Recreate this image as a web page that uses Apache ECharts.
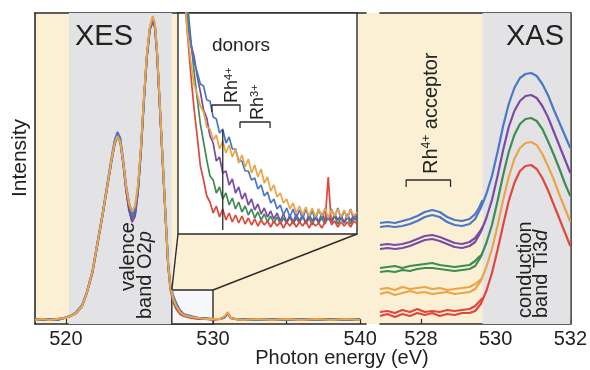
<!DOCTYPE html>
<html><head><meta charset="utf-8">
<script src="https://cdn.jsdelivr.net/npm/echarts@6/dist/echarts.min.js"></script>
<style>html,body{margin:0;padding:0;background:#fff}#c{width:590px;height:370px}</style>
</head><body><div id="c"></div>
<script>
// ---------- XES main panel (energy in eV, intensity in arbitrary units) ----------
const xesE = [517.9,518.4,518.9,519.4,519.9,520.3,520.7,521.1,521.4,521.8,522.1,522.5,522.8,523.1,523.3,523.5,523.7,523.9,524.1,524.3,524.5,524.7,524.9,525.1,525.3,525.5,525.7,525.9,526.05,526.2,526.4,526.6,526.8,526.95,527.1,527.3,527.5,527.75,528.0,528.5,529.0,529.5,530.0,530.5,530.8,531.0,531.2,531.5,532.0,533,534,535,536,537,538,539,540];
const xesOrange = [4,5,4,5,6,8,11,18,30,52,77,110,137,164,180,188,182,162,137,120,113,118,139,177,226,269,297,308,301,273,216,158,101,60,37,25,18,12,9,7,6,5,5,5,8,12,6,5,4,5,4,5,4,5,4,5,4];
const xesBlue   = [4,4,5,4,6,8,12,19,31,53,78,111,139,166,183,192,186,164,138,121,109,114,136,175,224,267,295,305,299,271,214,157,102,62,40,28,21,14,10,8,6,6,5,5,7,11,6,5,5,4,5,4,5,4,5,4,5];
const xesPurple = [4,5,4,5,6,8,11,18,30,51,76,109,136,163,179,188,182,160,133,113,102,108,132,172,222,266,294,304,298,270,213,156,100,59,37,26,19,13,9,7,6,5,5,5,7,11,6,5,4,5,4,4,5,4,5,4,4];
const xesGreen  = [5,4,5,4,6,8,11,18,30,51,76,110,136,163,179,188,182,161,135,116,106,111,134,174,223,267,295,305,299,271,214,157,100,59,36,24,17,12,9,7,6,5,5,5,7,11,6,5,5,4,5,4,5,4,5,4,5];
const xesRed    = [4,5,4,5,6,8,11,18,30,52,77,110,137,164,180,189,183,161,134,115,104,110,133,174,223,266,294,302,296,269,213,156,99,58,35,22,15,10,8,6,5,5,4,5,7,11,6,5,4,5,4,5,4,5,4,5,4];

// ---------- XES inset (zoomed 527.2 - 530 eV) ----------
const insE = [527.20,527.25,527.30,527.35,527.40,527.45,527.50,527.55,527.60,527.65,527.70,527.75,527.80,527.85,527.90,527.95,528.00,528.05,528.10,528.15,528.20,528.25,528.30,528.35,528.40,528.45,528.50,528.55,528.60,528.65,528.70,528.75,528.80,528.85,528.90,528.95,529.00,529.05,529.10,529.15,529.20,529.25,529.30,529.35,529.40,529.45,529.50,529.55,529.60,529.65,529.70,529.75,529.80,529.85,529.90,529.95,530.00];
const insRed    = [340,285,238,198,160,126,98,68,54,38,32,21,28,17,25,14,21,12,19,11,18,10,16,9,15,8,14,9,13,7,13,8,12,6,12,8,13,7,12,8,13,6,12,8,11,6,12,57,9,13,7,12,8,12,7,13,10];
const insGreen  = [390,330,275,230,195,163,136,110,92,74,58,54,41,47,35,41,29,36,25,32,22,28,19,25,16,22,14,20,12,18,11,17,10,16,11,17,10,16,11,18,10,16,9,17,11,16,10,17,11,18,10,16,11,17,10,16,13];
const insPurple = [330,285,245,212,190,178,158,142,124,116,98,91,73,77,61,63,49,55,41,47,35,41,29,35,24,30,20,26,17,23,15,21,13,20,12,19,12,20,13,19,11,20,13,19,12,21,13,19,12,20,14,19,11,20,13,19,15];
const insBlue   = [340,290,248,215,190,172,162,150,148,134,133,117,115,101,105,91,97,85,85,73,73,63,63,54,56,45,49,38,42,31,35,25,29,19,26,17,25,16,24,15,25,16,23,14,25,16,24,14,25,17,26,15,23,16,25,14,21];
const insOrange = [360,300,240,200,172,150,140,128,122,107,105,94,99,85,93,81,89,77,85,71,79,67,75,61,69,57,65,51,57,43,49,37,41,31,35,25,31,21,28,19,27,18,26,17,25,18,26,16,24,18,25,17,24,16,25,18,22];
// annotation geometry in inset data units
const rh4Bracket = [[527.73,122],[527.73,129],[528.17,129],[528.17,122]];
const rh3Bracket = [[528.17,106],[528.17,112],[528.64,112],[528.64,106]];
const donorLine  = [[527.90,4],[527.90,104]];

// ---------- XAS panel ----------
const xasE = [526.9,527.1,527.3,527.5,527.7,527.9,528.1,528.3,528.5,528.7,528.9,529.1,529.3,529.45,529.6,529.75,529.9,530.05,530.2,530.35,530.5,530.65,530.8,530.95,531.1,531.25,531.4,531.55,531.7,531.85,532.0];
const xasBlue   = [97,98,97,98,100,103,107,109,107,102,99,98,100,105,116,130,148,172,198,220,236,246,250,251,248,240,229,215,202,189,176];
const xasPurple = [75,76,75,76,78,81,84,85,83,80,77,76,78,82,92,106,124,148,174,197,213,223,228,229,226,218,207,193,179,165,151];
const xasGreen  = [52,53,52,54,53,55,56,56,55,54,53,54,55,58,67,81,99,123,149,172,189,200,205,206,203,195,183,170,156,141,128];
const xasOrange = [30,32,29,31,33,31,32,30,31,32,30,31,32,35,43,57,75,98,124,147,165,176,181,182,179,170,158,145,130,116,102];
const xasRed    = [8,10,7,10,8,11,9,11,8,10,9,11,11,13,20,33,51,74,99,123,141,153,158,159,155,146,134,120,106,92,78];
const xasEA = [526.9,527.1,527.3,527.5,527.7,527.9,528.1,528.3,528.5,528.7,528.9,529.1,529.3,529.45,529.55,529.65];
const xasBlueA   = [101,102,101,103,105,108,112,114,112,107,104,103,105,110,116,124];
const xasPurpleA = [79,80,79,80,82,85,88,89,87,84,81,80,82,86,91,97];
const xasGreenA  = [56,57,58,56,58,59,60,61,59,58,57,58,59,63,67,70];
const xasOrangeA = [35,36,34,37,35,36,37,35,36,34,35,36,37,40,43,46];
const xasRedA    = [12,13,11,14,12,15,12,13,12,14,13,14,15,18,22,26];
const accBracket = [[527.6,137],[527.6,144],[528.79,144],[528.79,137]];

// ---------- tick labels ----------
const xesTicks = [520,525,530,535,540];
const xesLabels = [520,530,540];
const xasTicks = [528,530,532];
const xasLabels = [528,530,532];

// ---------- bands ----------
const xesGray = [520.2,527.2];
const srcBox = [527.2,530.0,0,34];
const xasGray = [529.65,532];

const COL = {blue:'#4a78c4', purple:'#7a4aa5', green:'#3f8b55', orange:'#eaa548', red:'#e0463c'};
const YELLOW = '#fcf0d4', GRAY = '#e3e3e5', FRAME = '#2b2b2b';
const FONT = '"Liberation Sans", Arial, sans-serif';

const pairs = (xs, ys) => xs.map((x,i)=>[x, ys[i]]);
function line(name, xs, ys, color, xi, yi, w, z) {
  return {type:'line', name, data: pairs(xs, ys), xAxisIndex: xi, yAxisIndex: yi,
    symbol:'none', smooth: false, lineStyle:{color, width: w}, z: z||3, silent:true, animation:false};
}
function poly(data, xi, yi, w) {
  return {type:'line', data, xAxisIndex: xi, yAxisIndex: yi, symbol:'none',
    lineStyle:{color:FRAME, width:w}, z: 6, silent:true, animation:false};
}

const gridL = {left:35, top:13, width:331, height:311};
const gridR = {left:380, top:13, width:194, height:311};
const gridI = {left:178, top:13, width:179, height:221};

const axisBase = {type:'value', splitLine:{show:false}};
const labelStyle = {color:'#222', fontSize:20, fontFamily:FONT, margin:5};

const option = {
  animation:false,
  backgroundColor:'#fff',
  grid:[
    Object.assign({containLabel:false}, gridL),
    Object.assign({containLabel:false}, gridR),
    Object.assign({containLabel:false, show:true, backgroundColor:'#fff', borderColor:FRAME, borderWidth:1.4, z:1}, gridI)
  ],
  xAxis:[
    Object.assign({}, axisBase, {gridIndex:0, min:517.9, max:540.4, position:'bottom',
      axisLine:{show:true, onZero:false, lineStyle:{color:FRAME, width:1.6}},
      axisTick:{show:true, inside:true, length:5, customValues:xesTicks, lineStyle:{color:FRAME, width:1.2}},
      axisLabel:Object.assign({show:true, customValues:xesLabels}, labelStyle)}),
    Object.assign({}, axisBase, {gridIndex:0, min:517.9, max:540.4, position:'top',
      axisLine:{show:true, onZero:false, lineStyle:{color:FRAME, width:1.6}}, axisTick:{show:false}, axisLabel:{show:false}}),
    Object.assign({}, axisBase, {gridIndex:1, min:526.9, max:532, position:'bottom',
      axisLine:{show:true, onZero:false, lineStyle:{color:FRAME, width:1.6}},
      axisTick:{show:true, inside:true, length:5, customValues:xasTicks, lineStyle:{color:FRAME, width:1.2}},
      axisLabel:Object.assign({show:true, customValues:xasLabels}, labelStyle)}),
    Object.assign({}, axisBase, {gridIndex:1, min:526.9, max:532, position:'top',
      axisLine:{show:true, onZero:false, lineStyle:{color:FRAME, width:1.6}}, axisTick:{show:false}, axisLabel:{show:false}}),
    Object.assign({}, axisBase, {gridIndex:2, min:527.2, max:530, show:false})
  ],
  yAxis:[
    Object.assign({}, axisBase, {gridIndex:0, min:0, max:311, position:'left',
      axisLine:{show:true, onZero:false, lineStyle:{color:FRAME, width:1.6}}, axisTick:{show:false}, axisLabel:{show:false}}),
    Object.assign({}, axisBase, {gridIndex:1, min:0, max:311, position:'right',
      axisLine:{show:true, onZero:false, lineStyle:{color:FRAME, width:1.6}}, axisTick:{show:false}, axisLabel:{show:false}}),
    Object.assign({}, axisBase, {gridIndex:2, min:0, max:221, show:false})
  ],
  series:[
    {type:'line', data:[[517.9,0]], xAxisIndex:0, yAxisIndex:0, symbol:'none', lineStyle:{opacity:0}, z:1, silent:true,
      markArea:{silent:true, label:{show:false}, data:[
        [{xAxis:xesGray[0], itemStyle:{color:GRAY}}, {xAxis:xesGray[1]}],
        [{xAxis:srcBox[0], yAxis:srcBox[2], itemStyle:{color:'#f5f7fb', borderColor:FRAME, borderWidth:1.4}}, {xAxis:srcBox[1], yAxis:srcBox[3]}]
      ]}},
    {type:'line', data:[[526.9,0]], xAxisIndex:2, yAxisIndex:1, symbol:'none', lineStyle:{opacity:0}, z:1, silent:true,
      markArea:{silent:true, label:{show:false}, data:[
        [{xAxis:xasGray[0], itemStyle:{color:GRAY}}, {xAxis:xasGray[1]}]
      ]}},
    line('XES red', xesE, xesRed, COL.red, 0, 0, 2),
    line('XES green', xesE, xesGreen, COL.green, 0, 0, 2),
    line('XES purple', xesE, xesPurple, COL.purple, 0, 0, 2),
    line('XES blue', xesE, xesBlue, COL.blue, 0, 0, 2),
    line('XES orange', xesE, xesOrange, COL.orange, 0, 0, 2),
    line('ins green', insE, insGreen, COL.green, 4, 2, 1.7, 4),
    line('ins purple', insE, insPurple, COL.purple, 4, 2, 1.7, 4),
    line('ins blue', insE, insBlue, COL.blue, 4, 2, 1.7, 4),
    line('ins red', insE, insRed, COL.red, 4, 2, 1.7, 4),
    line('ins orange', insE, insOrange, COL.orange, 4, 2, 1.7, 4),
    poly(rh4Bracket, 4, 2, 1.3),
    poly(rh3Bracket, 4, 2, 1.3),
    poly(donorLine, 4, 2, 1.3),
    line('XAS red A', xasEA, xasRedA, COL.red, 2, 1, 2.2),
    line('XAS red', xasE, xasRed, COL.red, 2, 1, 2.2),
    line('XAS orange A', xasEA, xasOrangeA, COL.orange, 2, 1, 2.2),
    line('XAS orange', xasE, xasOrange, COL.orange, 2, 1, 2.2),
    line('XAS green A', xasEA, xasGreenA, COL.green, 2, 1, 2.2),
    line('XAS green', xasE, xasGreen, COL.green, 2, 1, 2.2),
    line('XAS purple A', xasEA, xasPurpleA, COL.purple, 2, 1, 2.2),
    line('XAS purple', xasE, xasPurple, COL.purple, 2, 1, 2.2),
    line('XAS blue A', xasEA, xasBlueA, COL.blue, 2, 1, 2.2),
    line('XAS blue', xasE, xasBlue, COL.blue, 2, 1, 2.2),
    poly(accBracket, 2, 1, 1.3)
  ]
};

const chart = echarts.init(document.getElementById('c'), null, {renderer:'canvas'});
chart.setOption(option);

// ---------- decorations positioned from the axes ----------
const pL = (v) => chart.convertToPixel({xAxisIndex:0, yAxisIndex:0}, v);
const pR = (v) => chart.convertToPixel({xAxisIndex:2, yAxisIndex:1}, v);
const pI = (v) => chart.convertToPixel({xAxisIndex:4, yAxisIndex:2}, v);
const bgTL = pL([517.9, 311]), bgBR = pR([532, 0]);
const sTL = pL([srcBox[0], srcBox[3]]), sTR = pL([srcBox[1], srcBox[3]]);
const iBL = pI([527.2, 0]), iBR = pI([530, 0]);
const ROT = Math.PI/2;
function txt(x, y, text, size, rot, align, rich) {
  return {type:'text', x, y, rotation: rot||0, z:50, silent:true,
    style:{text, fontSize:size, fontFamily:FONT, fill:'#222', align:align||'center', verticalAlign:'middle', rich}};
}
const sup = (s) => ({n:{fontSize:s, fontFamily:FONT, fill:'#222'}, s:{fontSize:Math.round(s*0.6), fontFamily:FONT, fill:'#222', verticalAlign:'top'}, i:{fontSize:s, fontFamily:FONT, fill:'#222', fontStyle:'italic'}});
chart.setOption({graphic:[
  {type:'rect', z:-10, silent:true, shape:{x:bgTL[0], y:bgTL[1], width:bgBR[0]-bgTL[0], height:bgBR[1]-bgTL[1]}, style:{fill:YELLOW}},
  {type:'line', z:20, silent:true, shape:{x1:sTL[0], y1:sTL[1], x2:iBL[0], y2:iBL[1]}, style:{stroke:FRAME, lineWidth:1.4}},
  {type:'line', z:20, silent:true, shape:{x1:sTR[0], y1:sTR[1], x2:iBR[0], y2:iBR[1]}, style:{stroke:FRAME, lineWidth:1.4}},
  txt(104, 37, 'XES', 29),
  txt(535, 37, 'XAS', 29),
  txt(241, 46, 'donors', 19),
  txt(20, 158, 'Intensity', 21, ROT),
  txt(342, 358, 'Photon energy (eV)', 20),
  txt(128, 291, 'valence', 20, ROT, 'left'),
  txt(145, 319, '{n|band O2}{i|p}', 20, ROT, 'left', sup(20)),
  txt(525, 318, 'conduction', 20, ROT, 'left'),
  txt(541, 318, '{n|band Ti3}{i|d}', 20, ROT, 'left', sup(20)),
  txt(232, 103, '{n|Rh}{s|4+}', 18, ROT, 'left', sup(18)),
  txt(258, 120, '{n|Rh}{s|3+}', 18, ROT, 'left', sup(18)),
  txt(431, 174, '{n|Rh}{s|4+}{n| acceptor}', 20, ROT, 'left', sup(20))
]});
</script></body></html>
